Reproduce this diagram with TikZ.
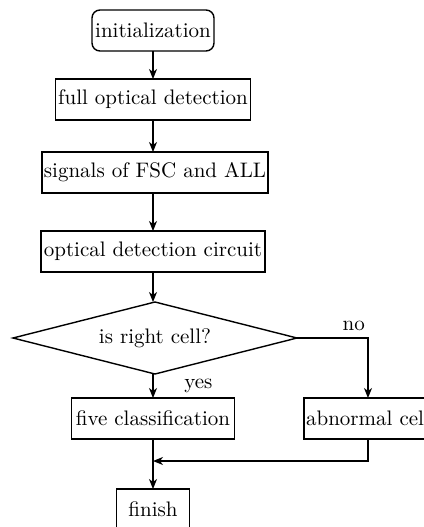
\documentclass[tikz,border=0pt]{standalone}
\usetikzlibrary{shapes.geometric,arrows.meta}
\tikzset{
	stepbox/.style={draw, minimum height=20.5pt, inner sep=1pt, outer sep=0pt},
	testbox/.style={draw, diamond, shape aspect=3.9, minimum width=142pt, minimum height=36pt, inner sep=0pt, outer sep=0pt}
}
\begin{document}
\begin{tikzpicture}[x=0.5pt, y=-0.5pt, line width=0.7pt, font=\fontsize{10.5}{12}\selectfont, >={Stealth[length=5pt, width=4pt, inset=1.5pt]}]
		\useasboundingbox (0,0) rectangle (424,527);
		\node[stepbox, rounded corners=4pt, minimum width=61pt] (init) at (153,30.5) {initialization};
		\node[stepbox, minimum width=97.5pt] (full) at (153,99.5) {full optical detection};
		\node[stepbox, minimum width=109pt] (signals) at (155,172.5) {signals of FSC and ALL};
		\node[stepbox, minimum width=112pt] (circuit) at (153,251.5) {optical detection circuit};
		\node[testbox] (check) at (155,338) {is right cell?};
		\node[stepbox, minimum width=81.5pt] (five) at (153,418.5) {five classification};
		\node[stepbox, minimum width=61pt] (abn) at (368,418.5) {abnormal cell};
		\node[stepbox, minimum width=36.5pt] (finish) at (153,509.5) {finish};
		\coordinate (join) at (153,461);
		\draw [->] (init) -- (full);
		\draw [->] (full) -- (signals.north -| full);
		\draw [->] (signals.south -| full) -- (circuit);
		\draw [->] (circuit) -- (check.north -| circuit);
		\draw [->] (check.south -| five) -- node[right=12pt] {yes} (five);
		\draw [->] (check.east) -| node[pos=0.4, above] {no} (abn.north);
		\draw [->] (five) -- (finish);
		\draw [->] (abn.south) |- (join);
	\end{tikzpicture}
\end{document}
